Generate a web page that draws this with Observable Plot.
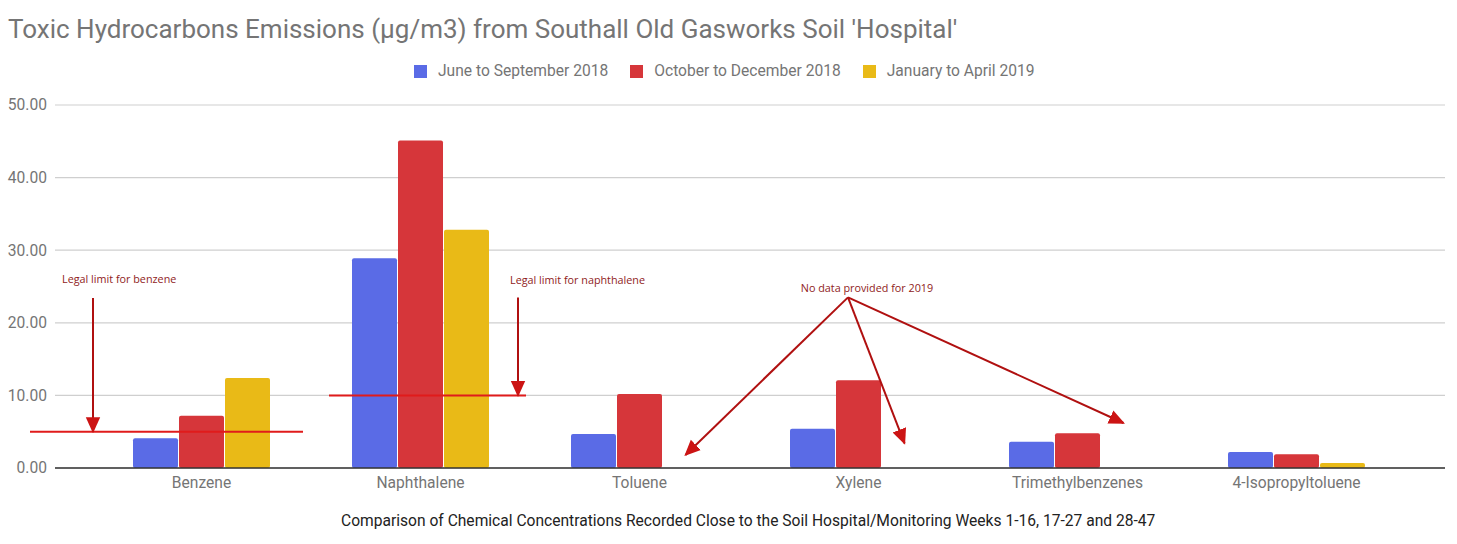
<!DOCTYPE html>
<html><head><meta charset="utf-8">
<script src="https://cdn.jsdelivr.net/npm/d3@7"></script>
<script src="https://cdn.jsdelivr.net/npm/@observablehq/plot@0.6"></script>
<style>
body{margin:0;background:#fff;font-family:Roboto,sans-serif;width:1457px;height:544px;overflow:hidden;position:relative}
#title{position:absolute;left:8px;top:14px;font-size:26px;color:#757575;white-space:nowrap}
#legend{position:absolute;top:62px;left:414px;display:flex;align-items:center;font-size:15.6px;color:#757575;white-space:nowrap}
#legend .item{display:flex;align-items:center;margin-right:22px}
#legend .sw{width:13px;height:13px;margin-right:11px}
#chart{position:absolute;top:88px;left:0}
#caption{position:absolute;top:512px;left:341px;font-size:15.6px;color:#222;white-space:nowrap}
</style></head>
<body>
<div id="title">Toxic Hydrocarbons Emissions (µg/m3) from Southall Old Gasworks Soil 'Hospital'</div>
<div id="legend"></div>
<div id="chart"></div>
<div id="caption">Comparison of Chemical Concentrations Recorded Close to the Soil Hospital/Monitoring Weeks 1-16, 17-27 and 28-47</div>
<script>
// ---- data ----
const categories = ["Benzene","Naphthalene","Toluene","Xylene","Trimethylbenzenes","4-Isopropyltoluene"];
const seriesNames = ["June to September 2018","October to December 2018","January to April 2019"];
const june2018 = [4.1, 28.9, 4.7, 5.4, 3.6, 2.2];
const oct2018  = [7.2, 45.1, 10.2, 12.1, 4.8, 1.9];
const jan2019  = [12.4, 32.8, null, null, null, 0.7];
const yTicks = [0, 10, 20, 30, 40, 50];
const colors = ["#5a6be6", "#d6363a", "#e9ba17"];
// annotations (values in data units)
const limitChems = ["Benzene", "Naphthalene"];
const limitValues = [5, 10];
const limitLabels = ["Legal limit for benzene", "Legal limit for naphthalene"];
const limitArrowFrom = [23.4, 23.5];
const limitLabelAt = [26.0, 25.8];
const noDataLabel = "No data provided for 2019";
const noDataLabelChem = "Xylene";
const noDataLabelAt = 24.7;
const noDataOriginAt = 23.5;
const noDataChems = ["Toluene", "Xylene", "Trimethylbenzenes"];
const noDataTargets = [1.8, 3.4, 6.2];

// ---- table ----
const seriesValues = [june2018, oct2018, jan2019];
const rows = [];
categories.forEach((c, i) => seriesNames.forEach((s, j) => {
  const v = seriesValues[j][i];
  if (v != null) rows.push({chem: c, series: s, value: v});
}));

// legend
const legend = document.getElementById("legend");
seriesNames.forEach((s, j) => {
  const it = document.createElement("div"); it.className = "item";
  it.innerHTML = `<div class="sw" style="background:${colors[j]}"></div><span>${s}</span>`;
  legend.appendChild(it);
});

const W = 1457, H = 410, ML = 52, MR = 12, MT = 17, MB = 30;
const chart = Plot.plot({
  width: W, height: H, marginLeft: ML, marginRight: MR, marginTop: MT, marginBottom: MB,
  style: {fontFamily: "Roboto, sans-serif", fontSize: "15.6px", color: "#757575", background: "transparent", overflow: "visible"},
  fx: {domain: categories, paddingInner: 0.36, paddingOuter: 0.36, label: null, tickSize: 0, tickPadding: 8, axis: "bottom"},
  x: {domain: seriesNames, padding: 0.03, axis: null},
  y: {domain: [0, 50], ticks: yTicks, label: null, axis: null},
  color: {domain: seriesNames, range: colors},
  marks: [
    Plot.barY(rows, {fx: "chem", x: "series", y: "value", fill: "series", rx: 2})
  ]
});
document.getElementById("chart").appendChild(chart);

const fx = chart.scale("fx"), xs = chart.scale("x"), ys = chart.scale("y");
const center = c => fx.apply(c) + fx.bandwidth / 2;
const svg = d3.select(chart);

// gridlines behind bars, y tick labels at the left of the frame
const grid = svg.insert("g", ":first-child");
yTicks.forEach(t => {
  grid.append("line").attr("x1", ML + 3).attr("x2", W - MR).attr("y1", ys.apply(t)).attr("y2", ys.apply(t))
    .attr("stroke", "#cfcfcf").attr("stroke-width", 1.2);
  grid.append("text").attr("x", ML - 5).attr("y", ys.apply(t)).attr("dy", "0.35em")
    .attr("text-anchor", "end").attr("fill", "#757575").attr("font-size", 15.6)
    .attr("font-family", "Roboto, sans-serif").text(t.toFixed(2));
});
svg.append("line").attr("x1", ML + 3).attr("x2", W - MR).attr("y1", ys.apply(0)).attr("y2", ys.apply(0))
  .attr("stroke", "#333").attr("stroke-width", 1.3);

// arrow marker
const defs = svg.append("defs");
defs.append("marker").attr("id", "ah").attr("viewBox", "0 0 10 10").attr("refX", 9).attr("refY", 5)
  .attr("markerWidth", 8).attr("markerHeight", 8).attr("orient", "auto-start-reverse")
  .append("path").attr("d", "M0,0.5 L10,5 L0,9.5 z").attr("fill", "#cc1414");

const ann = svg.append("g").attr("text-anchor", "start");
// layout offsets (pixels, relative to category centre)
const limitLayout = [
  {lineFrom: -171, lineTo: 102, arrowDx: -108, textDx: -139},
  {lineFrom: -91, lineTo: 106, arrowDx: 98, textDx: 90}
];
limitChems.forEach((c, i) => {
  const cx = center(c), L = limitLayout[i];
  const yv = ys.apply(limitValues[i]);
  ann.append("line").attr("x1", cx + L.lineFrom).attr("x2", cx + L.lineTo).attr("y1", yv).attr("y2", yv)
    .attr("stroke", "#e01b1b").attr("stroke-width", 2);
  ann.append("line").attr("x1", cx + L.arrowDx).attr("x2", cx + L.arrowDx)
    .attr("y1", ys.apply(limitArrowFrom[i])).attr("y2", yv)
    .attr("stroke", "#b01010").attr("stroke-width", 2).attr("marker-end", "url(#ah)");
  ann.append("text").attr("x", cx + L.textDx).attr("y", ys.apply(limitLabelAt[i])).attr("dy", "0.35em")
    .attr("text-anchor", "start")
    .attr("font-family", "Open Sans, sans-serif").attr("font-size", 10.8).attr("fill", "#8f1b1b")
    .text(limitLabels[i]);
});
const lc = center(noDataLabelChem);
ann.append("text").attr("x", lc + 9).attr("y", ys.apply(noDataLabelAt)).attr("dy", "0.35em")
  .attr("text-anchor", "middle").attr("font-family", "Open Sans, sans-serif").attr("font-size", 10.8)
  .attr("fill", "#8f1b1b").text(noDataLabel);
const ox = lc - 10, oy = ys.apply(noDataOriginAt);
const x0 = xs.range[0];
noDataChems.forEach((c, i) => {
  const tx = fx.apply(c) + xs.apply(seriesNames[2]) - x0 + xs.bandwidth / 2;
  ann.append("line").attr("x1", ox).attr("y1", oy).attr("x2", tx).attr("y2", ys.apply(noDataTargets[i]))
    .attr("stroke", "#b01010").attr("stroke-width", 2).attr("marker-end", "url(#ah)");
});
</script>
</body></html>
